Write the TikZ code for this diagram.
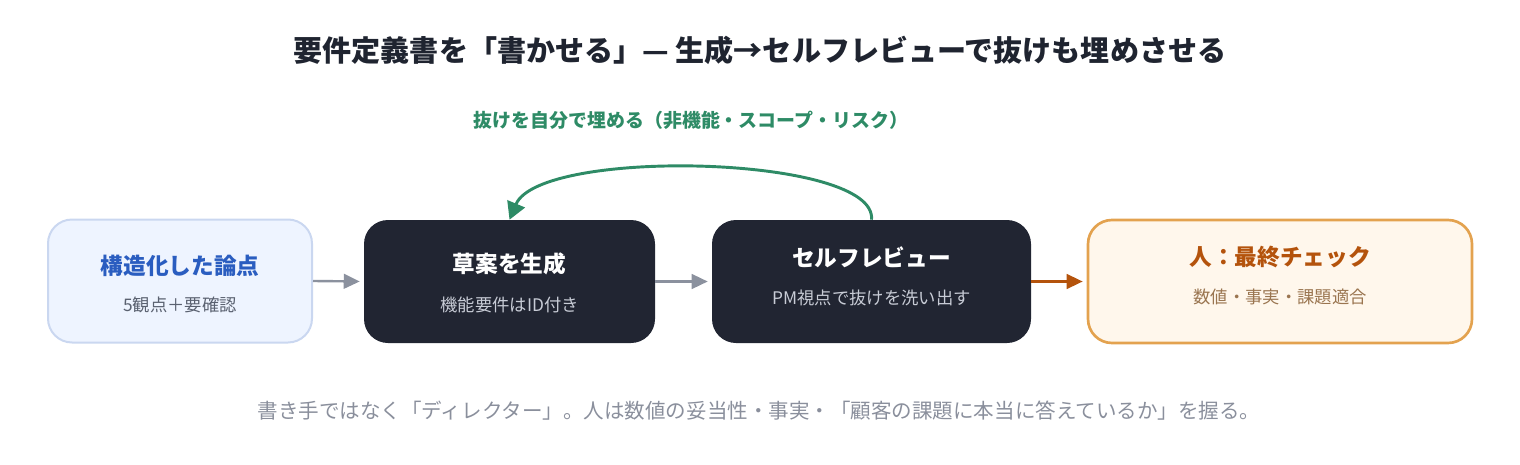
\documentclass[tikz,border=0pt]{standalone}
\usepackage{fontspec}
\setmainfont{Noto Sans CJK JP}
\usetikzlibrary{arrows.meta}
\definecolor{ink}{HTML}{1F2430}
\definecolor{bluefill}{HTML}{EEF4FF}
\definecolor{blueline}{HTML}{CAD7F0}
\definecolor{bluetext}{HTML}{2A5DC0}
\definecolor{graysub}{HTML}{5A6170}
\definecolor{dark}{HTML}{212532}
\definecolor{darksub}{HTML}{C8CCD6}
\definecolor{orfill}{HTML}{FFF7EC}
\definecolor{orline}{HTML}{E3A24F}
\definecolor{ortext}{HTML}{B4530C}
\definecolor{orsub}{HTML}{9A7550}
\definecolor{arrgray}{HTML}{8B919E}
\definecolor{green}{HTML}{2E8B66}
\definecolor{foot}{HTML}{8A8F9C}
\tikzset{
  box/.style={rounded corners=18pt, minimum height=92.25pt, inner sep=0pt},
  lightbox/.style={box, fill=bluefill, draw=blueline, line width=1.5pt},
  darkbox/.style={box, fill=dark},
  humanbox/.style={box, fill=orfill, draw=orline, line width=2pt},
  ttl/.style={font=\bfseries\fontsize{17}{20}\selectfont, inner sep=0pt},
  sub/.style={font=\fontsize{13}{15}\selectfont, inner sep=0pt},
  flow/.style={line width=1.8pt, draw=arrgray, -{Triangle[length=12pt,width=11pt]}, shorten >=3pt},
}
\begin{document}
\begin{tikzpicture}[x=0.75pt,y=-0.75pt]
\useasboundingbox (0,0) rectangle (1520,464);
\node[font=\bfseries\fontsize{21.8}{26}\selectfont, text=ink, inner sep=0pt] (title) at (760,50) {要件定義書を「書かせる」— 生成→セルフレビューで抜けも埋めさせる};

\node[lightbox, minimum width=198pt] (n1) at (180,281) {};
\node[darkbox, minimum width=218.25pt] (n2) at (509.5,281.5) {};
\node[darkbox, minimum width=239.25pt] (n3) at (871.5,281.5) {};
\node[humanbox, minimum width=288pt] (n4) at (1280,281.5) {};

\node[ttl, text=bluetext] (t1) at (180,266) {構造化した論点};
\node[sub, text=graysub] (s1) at (180,305) {5観点＋要確認};
\node[ttl, text=white] (t2) at (509.5,264) {草案を生成};
\node[sub, text=darksub] (s2) at (509.5,305) {機能要件はID付き};
\node[ttl, text=white] (t3) at (871.5,257) {セルフレビュー};
\node[sub, text=darksub] (s3) at (871.5,298) {PM視点で抜けを洗い出す};
\node[ttl, text=ortext] (t4) at (1280,257) {人：最終チェック};
\node[sub, text=orsub] (s4) at (1280,297) {数値・事実・課題適合};

\draw[flow] (n1.east) -- (n2.west);
\draw[flow] (n2.east) -- (n3.west);
\draw[flow, draw=ortext] (n3.east) -- (n4.west);

\draw[line width=2.2pt, draw=green, -{Triangle[length=13pt,width=14pt]}]
  (n3.north) .. controls (878,155) and (540,147) .. (n2.north);
\node[font=\bfseries\fontsize{14.2}{17}\selectfont, text=green, inner sep=0pt] (lbl) at (691,120) {抜けを自分で埋める（非機能・スコープ・リスク）};

\node[font=\fontsize{15.4}{18}\selectfont, text=foot, inner sep=0pt] (note) at (759,411) {書き手ではなく「ディレクター」。人は数値の妥当性・事実・「顧客の課題に本当に答えているか」を握る。};
\end{tikzpicture}
\end{document}
